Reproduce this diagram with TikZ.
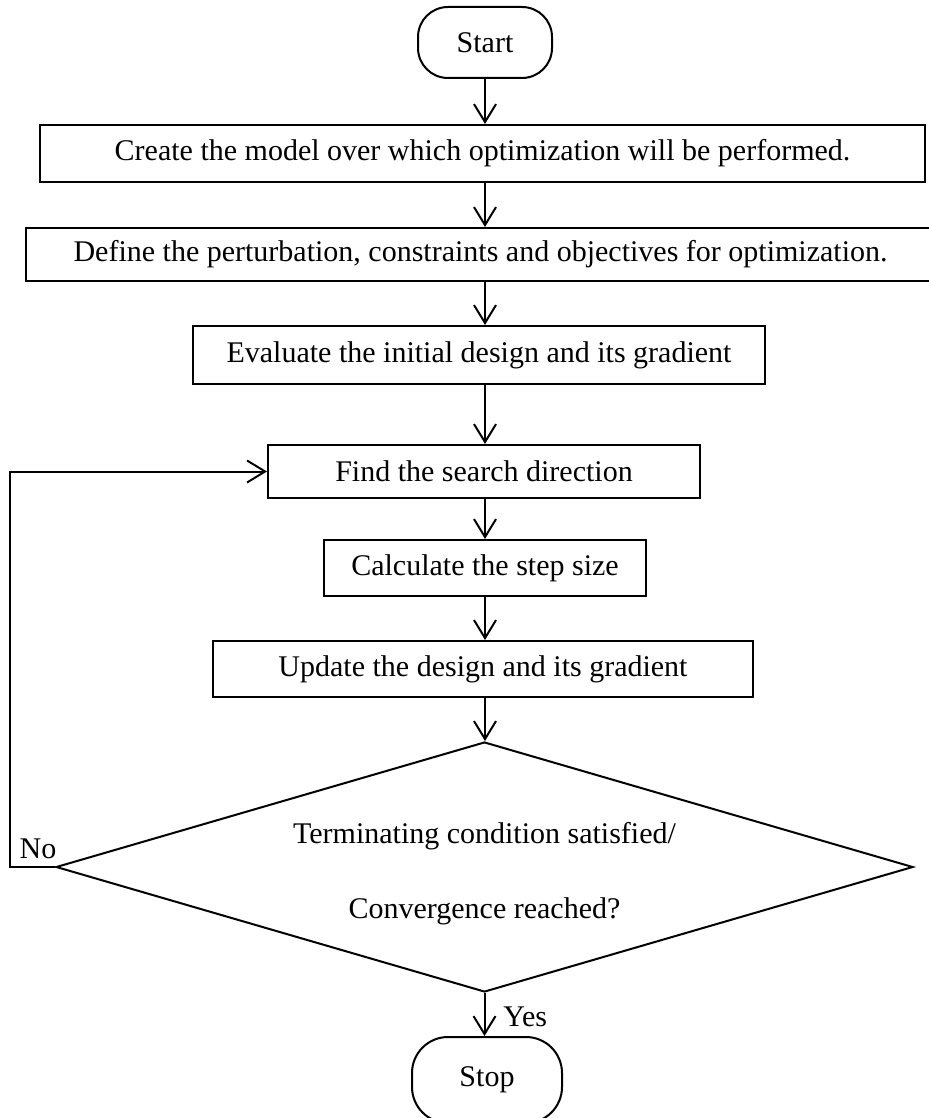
\documentclass[tikz,border=0pt]{standalone}
\usepackage{fontspec}
\setmainfont{Liberation Serif}
\usetikzlibrary{shapes.geometric,arrows.meta}
\begin{document}
\begin{tikzpicture}[x=0.5pt,y=-0.5pt,
  font=\fontsize{15pt}{18pt}\selectfont,
  box/.style={draw,line width=1pt,rectangle,inner sep=0pt,align=center},
  term/.style={draw,line width=1pt,rectangle,inner sep=0pt},
  flow/.style={line width=1pt,-{Straight Barb[length=9pt,width=11pt,line width=1pt]}},
  lbl/.style={inner sep=0pt}]
\useasboundingbox (0,0) rectangle (929,1118);
\clip (0,0) rectangle (929,1118);
\node[term,rounded corners=15pt,minimum width=67pt,minimum height=35.5pt] (start) at (485,42.5) {Start};
\node[box,minimum width=442.5pt,minimum height=28.5pt] (b1) at (482.5,153.5) {Create the model over which optimization will be performed.};
\node[box,minimum width=454.5pt,minimum height=26.5pt] (b2) at (480.5,254.5) {Define the perturbation, constraints and objectives for optimization.};
\node[box,minimum width=286pt,minimum height=29pt] (b3) at (479,355) {Evaluate the initial design and its gradient};
\node[box,minimum width=216pt,minimum height=26.5pt] (b4) at (484,471.5) {Find the search direction};
\node[box,minimum width=161pt,minimum height=28pt] (b5) at (485,568) {Calculate the step size};
\node[box,minimum width=270pt,minimum height=28pt] (b6) at (483,669) {Update the design and its gradient};
\node[draw,line width=1pt,diamond,aspect=3.43,inner sep=0pt,minimum width=428.5pt,minimum height=125pt,
  label={[align=center,inner sep=0pt,yshift=-3.5pt]center:Terminating condition satisfied/\\[19.5pt]Convergence reached?}] (dia) at (484.5,867) {};
\node[term,rounded corners=18pt,minimum width=75pt,minimum height=43pt] (stop) at (487,1080) {Stop};
\coordinate (lc) at (10,867);
\draw[flow] (start.south) -- (start.south |- b1.north);
\draw[flow] (start.south |- b1.south) -- (start.south |- b2.north);
\draw[flow] (start.south |- b2.south) -- (start.south |- b3.north);
\draw[flow] (start.south |- b3.south) -- (start.south |- b4.north);
\draw[flow] (start.south |- b4.south) -- (start.south |- b5.north);
\draw[flow] (start.south |- b5.south) -- (start.south |- b6.north);
\draw[flow] (start.south |- b6.south) -- (start.south |- dia.north);
\draw[flow] (dia.south) -- (dia.south |- stop.north);
\draw[flow] (dia.west) -- (lc) |- (b4.west);
\node[lbl] (no) at (38,849) {No};
\node[lbl,anchor=west] (yes) at (503,1017) {Yes};
\end{tikzpicture}
\end{document}
